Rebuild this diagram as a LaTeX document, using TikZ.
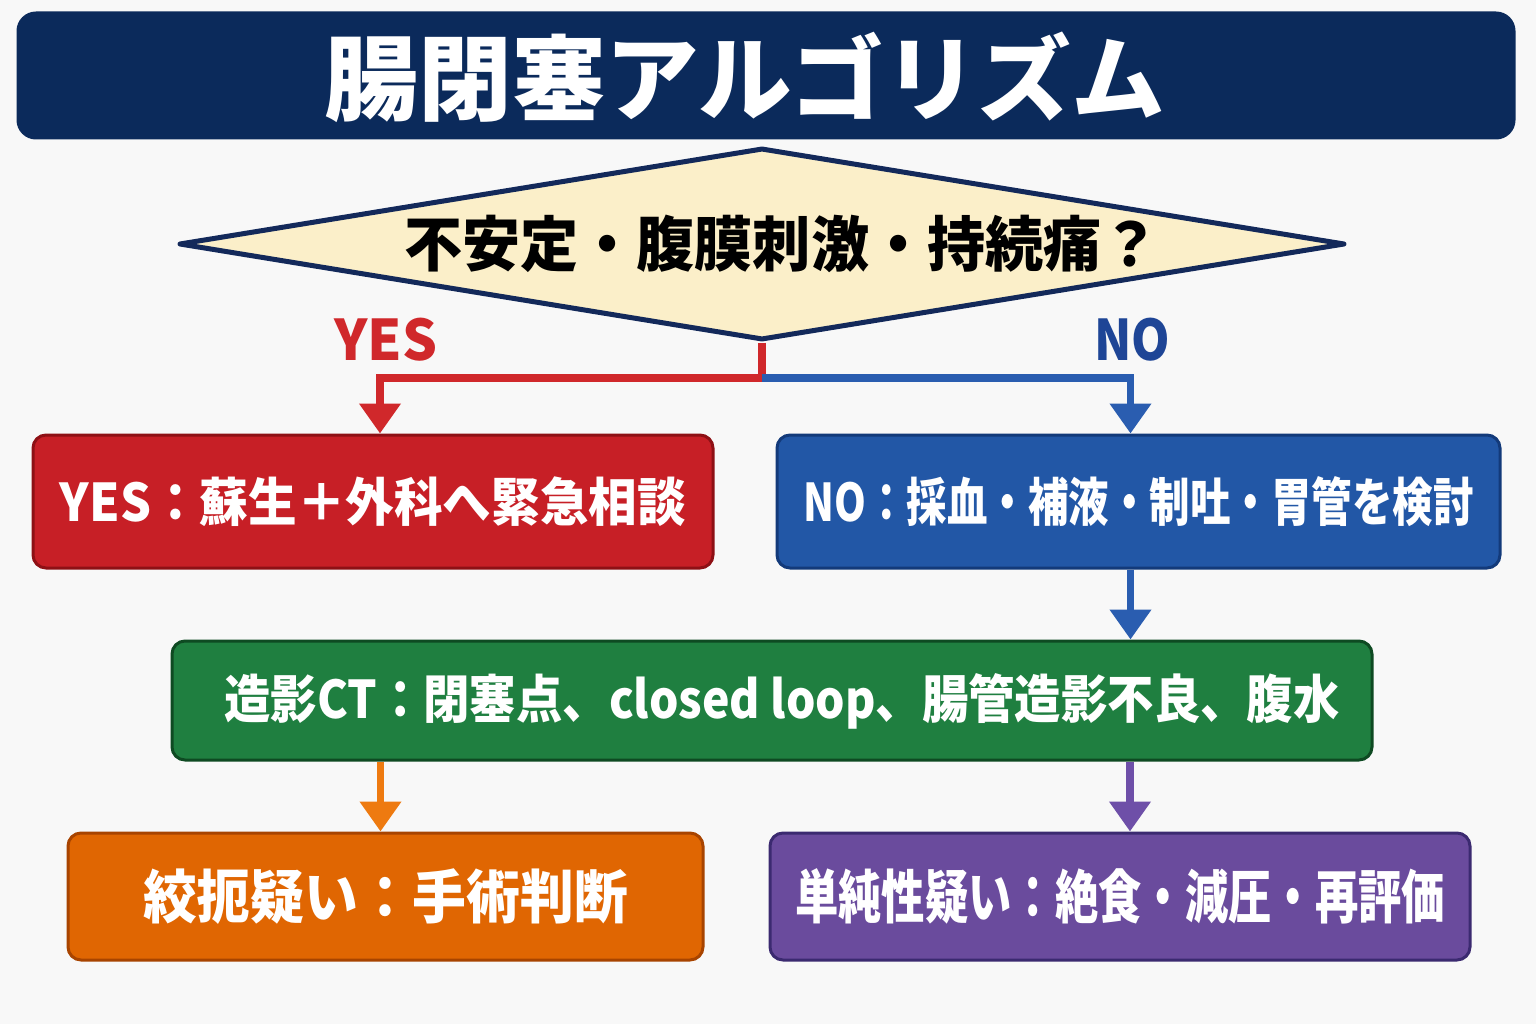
\documentclass[tikz,border=0pt]{standalone}
\usepackage{fontspec}
\usepackage{graphicx}
\usetikzlibrary{shapes.geometric,arrows.meta,calc}
\newfontfamily\jpb{Noto Sans CJK JP Bold}
\newfontfamily\jpk{Noto Sans CJK JP Black}
\newcommand{\fitw}[2]{\resizebox{#1}{\height}{#2}}
\definecolor{bgc}{HTML}{F8F8F8}
\definecolor{navy}{HTML}{0B2A5B}
\definecolor{cream}{HTML}{FBEFC9}
\definecolor{dianavy}{HTML}{13295A}
\definecolor{redf}{HTML}{C71F26}
\definecolor{redd}{HTML}{8E1015}
\definecolor{redl}{HTML}{D0282B}
\definecolor{bluef}{HTML}{2257A6}
\definecolor{blued}{HTML}{133A7A}
\definecolor{bluel}{HTML}{2A5DB0}
\definecolor{bluet}{HTML}{1E4596}
\definecolor{greenf}{HTML}{1F7F40}
\definecolor{greend}{HTML}{0E4A22}
\definecolor{orangef}{HTML}{E06602}
\definecolor{oranged}{HTML}{A84400}
\definecolor{orangel}{HTML}{EE7A10}
\definecolor{purplef}{HTML}{6A4B9D}
\definecolor{purpled}{HTML}{3B2A70}
\definecolor{purplel}{HTML}{6E4FA8}
\tikzset{
  boxnode/.style={rectangle, rounded corners=13pt, line width=3pt, inner sep=0pt, text=white},
  conn/.style={line width=7.5pt, -{Triangle[width=40pt,length=30pt]}},
  plain/.style={line width=7.5pt},
}
\begin{document}
\begin{tikzpicture}[x=1pt,y=-1pt]
\useasboundingbox (0,0) rectangle (1536,1024);
\fill[bgc] (0,0) rectangle (1536,1024);

% title
\node[boxnode, fill=navy, draw=navy, rounded corners=18pt, minimum width=1496pt, minimum height=125pt,
  label={[xshift=-21pt, yshift=-2pt, text=white]center:{\jpk\fontsize{93}{100}\selectfont\fitw{840pt}{腸閉塞アルゴリズム}}}]
  (title) at (766,75.5) {};

% diamond
\node[diamond, aspect=6.07, minimum width=1166pt, minimum height=192pt, inner sep=0pt,
  fill=cream, draw=dianavy, line width=5pt, line join=round,
  label={[xshift=20pt]center:{\jpk\fontsize{60}{66}\selectfont\fitw{755pt}{不安定・腹膜刺激・持続痛？}}}]
  (dia) at (762,244) {};

% YES / NO labels
\node[text=redl] (yeslab) at (386,340) {\jpk\fontsize{56}{60}\selectfont\fitw{103pt}{YES}};
\node[text=bluet] (nolab) at (1132,340) {\jpk\fontsize{56}{60}\selectfont\fitw{76pt}{NO}};

% boxes
\node[boxnode, fill=redf, draw=redd, minimum width=680pt, minimum height=133pt] (yes) at (373,501.5)
  {\jpk\fontsize{52}{58}\selectfont\fitw{626pt}{YES：蘇生＋外科へ緊急相談}};
\node[boxnode, fill=bluef, draw=blued, minimum width=723pt, minimum height=133pt] (no) at (1138.5,501.5)
  {\jpk\fontsize{52}{58}\selectfont\fitw{670pt}{NO：採血・補液・制吐・胃管を検討}};
\node[boxnode, fill=greenf, draw=greend, minimum width=1200pt, minimum height=119pt,
  label={[xshift=10pt,yshift=-1pt,text=white]center:{\jpk\fontsize{52}{58}\selectfont\fitw{1115pt}{造影CT：閉塞点、closed loop、腸管造影不良、腹水}}}] (ct) at (772,700.5) {};
\node[boxnode, fill=orangef, draw=oranged, minimum width=635pt, minimum height=127pt] (strang) at (385.5,896.5)
  {\jpk\fontsize{58}{64}\selectfont\fitw{485pt}{絞扼疑い：手術判断}};
\node[boxnode, fill=purplef, draw=purpled, minimum width=700pt, minimum height=127pt] (simple) at (1120,896.5)
  {\jpk\fontsize{58}{64}\selectfont\fitw{650pt}{単純性疑い：絶食・減圧・再評価}};

% connectors
\coordinate (jn) at (762,378);
\draw[plain, redl] (dia.south) -- (jn);
\draw[conn, redl] ([xshift=2pt]jn) -| ([xshift=7pt]yes.north);
\draw[conn, bluel] (jn) -| ([xshift=-8pt]no.north);
\draw[conn, bluel] ([xshift=-8pt]no.south) -- ([xshift=-8pt]no.south |- ct.north);
\draw[conn, orangel] ([xshift=-5pt]strang.north |- ct.south) -- ([xshift=-5pt]strang.north);
\draw[conn, purplel] ([xshift=10pt]simple.north |- ct.south) -- ([xshift=10pt]simple.north);
\end{tikzpicture}
\end{document}
